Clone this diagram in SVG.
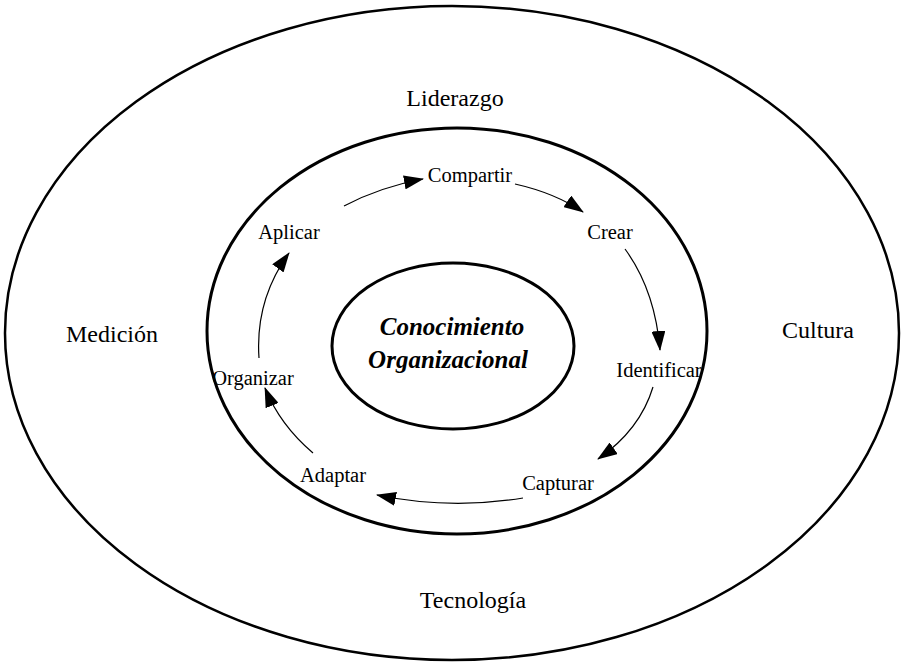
<svg xmlns="http://www.w3.org/2000/svg" width="903" height="665" viewBox="0 0 903 665">
  <defs>
    <marker id="arrow" markerWidth="20" markerHeight="14" refX="19" refY="7" orient="auto" markerUnits="userSpaceOnUse">
      <path d="M0,0 L20,7 L0,14 z" fill="#000"/>
    </marker>
    <style>
      .ring { fill: none; stroke: #000; }
      .lbl { fill: #000; text-anchor: middle; }
      .outer { font-size: 24px; }
      .step { font-size: 20.5px; }
      .core { font-size: 25px; font-weight: bold; font-style: italic; }
      .flow { fill: none; stroke: #000; stroke-width: 1.2; marker-end: url(#arrow); }
    </style>
  </defs>
  <rect width="903" height="665" fill="#fff"/>

  <g font-family="'Liberation Serif', 'DejaVu Serif', 'Times New Roman', serif">
    <g id="entorno">
      <ellipse class="ring" cx="452" cy="333" rx="447" ry="327" stroke-width="2.5"/>
      <text class="lbl outer" x="455" y="106">Liderazgo</text>
      <text class="lbl outer" x="112" y="342">Medición</text>
      <text class="lbl outer" x="818" y="338">Cultura</text>
      <text class="lbl outer" x="473" y="608">Tecnología</text>
    </g>

    <g id="ciclo">
      <ellipse class="ring" cx="457" cy="331" rx="250" ry="203" stroke-width="3"/>
    </g>

    <g id="nucleo">
      <ellipse class="ring" cx="453" cy="346" rx="121" ry="83" stroke-width="3"/>
      <text class="lbl core" x="452" y="335">Conocimiento</text>
      <text class="lbl core" x="448" y="368">Organizacional</text>
    </g>

    <g id="compartir"><text class="lbl step" x="470" y="182">Compartir</text></g>
    <g id="crear"><text class="lbl step" x="610" y="239">Crear</text></g>
    <g id="identificar"><text class="lbl step" x="659" y="377">Identificar</text></g>
    <g id="capturar"><text class="lbl step" x="558" y="490">Capturar</text></g>
    <g id="adaptar"><text class="lbl step" x="333" y="482">Adaptar</text></g>
    <g id="organizar"><text class="lbl step" x="253" y="385">Organizar</text></g>
    <g id="aplicar"><text class="lbl step" x="289" y="239">Aplicar</text></g>
  </g>

  <g id="conectores">
    <path class="flow" d="M344,206 Q380,187 423,179"/>
    <path class="flow" d="M515,184 Q555,193 583,212"/>
    <path class="flow" d="M625,249 Q655,290 660,350"/>
    <path class="flow" d="M653,387 Q640,430 598,459"/>
    <path class="flow" d="M523,498 Q450,510 377,495"/>
    <path class="flow" d="M313,453 Q280,425 265,388"/>
    <path class="flow" d="M259,358 Q255,300 289,253"/>
  </g>
</svg>
